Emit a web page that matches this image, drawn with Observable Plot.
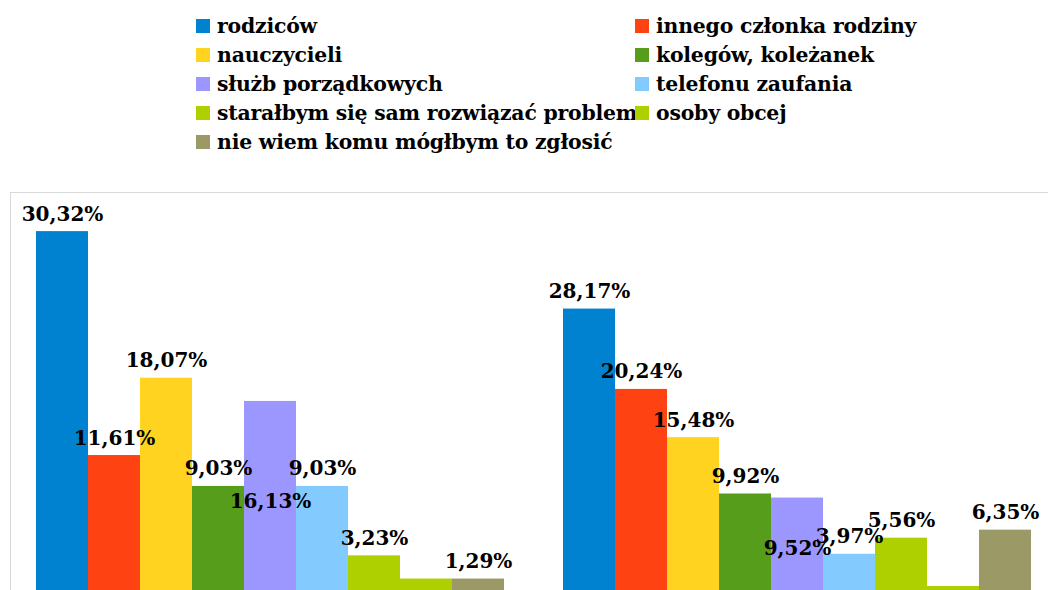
<!DOCTYPE html>
<html>
<head>
<meta charset="utf-8">
<script src="https://cdn.jsdelivr.net/npm/d3@7"></script>
<script src="https://cdn.jsdelivr.net/npm/@observablehq/plot@0.6"></script>
<style>
  html, body { margin: 0; padding: 0; background: #fff; overflow: hidden; width: 1048px; height: 590px; }
  #legend { position: absolute; left: 196px; top: 11px; display: grid; grid-template-columns: 439px auto; grid-auto-rows: 29px; color: #000; }
  .item { display: flex; align-items: center; white-space: nowrap; font-family: 'DejaVu Serif', serif; font-weight: 700; font-size: 20.4px; letter-spacing: -0.2px; }
  .sw { width: 14px; height: 14px; margin-right: 7px; flex: none; }
  #frame { position: absolute; left: 10px; top: 192px; width: 1060px; height: 420px; border: 1px solid #d9d9d9; box-sizing: border-box; }
  #c1, #c2 { position: absolute; top: 192px; width: 524px; height: 402px; }
  #c1 { left: 10px; }
  #c2 { left: 537px; }
</style>
</head>
<body>
<div id="legend"></div>
<div id="frame"></div>
<div id="c1"></div>
<div id="c2"></div>
<script>
const categories = ["rodziców", "innego członka rodziny", "nauczycieli", "kolegów, koleżanek", "służb porządkowych", "telefonu zaufania", "starałbym się sam rozwiązać problem", "osoby obcej", "nie wiem komu mógłbym to zgłosić"];
const colors = ["#0082d0", "#ff4212", "#ffd320", "#579d1c", "#9c97ff", "#83caff", "#aecf00", "#aecf00", "#9b9966"];
const group1 = [30.32, 11.61, 18.07, 9.03, 16.13, 9.03, 3.23, 1.29, 1.29];
const group2 = [28.17, 20.24, 15.48, 9.92, 9.52, 3.97, 5.56, 0.79, 6.35];
// value level at which each data label sits (null = label not shown)
const labelAt1 = [30.32, 11.61, 18.07, 9.03, 6.27, 9.03, 3.23, null, 1.29];
const labelAt2 = [28.17, 20.24, 15.48, 9.92, 2.78, 3.97, 5.56, null, 6.35];
const yMax1 = 32;
const yMax2 = 37.8;

// legend
const legend = document.getElementById("legend");
categories.forEach((c, i) => {
  const it = document.createElement("div");
  it.className = "item";
  const sw = document.createElement("span");
  sw.className = "sw";
  sw.style.background = colors[i];
  const t = document.createElement("span");
  t.textContent = c;
  it.appendChild(sw); it.appendChild(t);
  legend.appendChild(it);
});

const fmt = v => v.toFixed(2).replace(".", ",") + "%";

function chart(values, labelAt, yMax) {
  const data = categories.map((c, i) => ({category: c, value: values[i], at: labelAt[i], label: fmt(values[i])}));
  return Plot.plot({
    width: 524, height: 402,
    marginTop: 19, marginBottom: 0, marginLeft: 23, marginRight: 27,
    style: {background: "transparent", overflow: "visible", maxWidth: "none"},
    x: {domain: categories, padding: 0, axis: null},
    y: {domain: [0, yMax], axis: null},
    color: {domain: categories, range: colors},
    marks: [
      Plot.barY(data, {x: "category", y: "value", fill: "category"}),
      Plot.text(data.filter(d => d.at != null), {
        x: "category", y: "at", text: "label",
        lineAnchor: "bottom", dy: -11,
        fontSize: 20, fontWeight: "bold", fontFamily: "DejaVu Serif", fill: "#000",
        style: {letterSpacing: "-0.4px"}
      })
    ]
  });
}

document.getElementById("c1").appendChild(chart(group1, labelAt1, yMax1));
document.getElementById("c2").appendChild(chart(group2, labelAt2, yMax2));
</script>
</body>
</html>
